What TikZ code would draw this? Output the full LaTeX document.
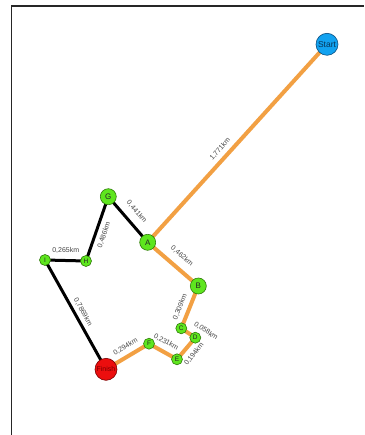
\documentclass[tikz,border=0pt]{standalone}
\usepackage{fontspec}
\setmainfont{Liberation Sans}
\usetikzlibrary{backgrounds}
\definecolor{ngreen}{HTML}{5EE61E}
\definecolor{ngreenb}{HTML}{2F7A0A}
\definecolor{nblue}{HTML}{12A2F0}
\definecolor{nblueb}{HTML}{0A4E80}
\definecolor{nred}{HTML}{EC0E0E}
\definecolor{nredb}{HTML}{7A0000}
\definecolor{route}{HTML}{F2A043}
\definecolor{lbltxt}{HTML}{444444}
\tikzset{
  wp/.style={circle, draw=ngreenb, line width=0.6pt, fill=ngreen, inner sep=0pt, minimum size=16pt, font=\fontsize{8}{9}\selectfont, text=black!85},
  wps/.style={wp, minimum size=11pt, font=\fontsize{6.5}{7}\selectfont},
  startn/.style={circle, draw=nblueb, line width=0.6pt, fill=nblue, inner sep=0pt, minimum size=22pt, font=\fontsize{8.5}{9}\selectfont, text=nblueb!70!black},
  finishn/.style={circle, draw=nredb, line width=0.6pt, fill=nred, inner sep=0pt, minimum size=22pt, font=\fontsize{7}{8}\selectfont, text=nredb},
  orange/.style={draw=route, line width=4pt},
  blackr/.style={draw=black, line width=3pt},
  lbl/.style={font=\fontsize{7}{8}\selectfont, text=lbltxt, inner sep=0pt},
  framel/.style={draw=black!85, line width=1.5pt}
}
\begin{document}
\begin{tikzpicture}[x=1pt,y=-1pt]
\useasboundingbox (0,0) rectangle (364,435);
% nodes
\node[startn] (S) at (327,44.3) {Start};
\node[wp] (G) at (108.3,196.7) {G};
\node[wp] (A) at (147.7,242.3) {A};
\node[wps] (H) at (86,261) {H};
\node[wps] (I) at (45,260) {I};
\node[wp] (B) at (198.3,286) {B};
\node[wps] (C) at (181.3,328.3) {C};
\node[wps] (D) at (195.3,337.7) {D};
\node[wps] (E) at (177,359.3) {E};
\node[wps] (F) at (149,343.7) {F};
\node[finishn] (Fin) at (106,369.3) {Finish};
% labels
\node[lbl, rotate=47.8] (l1) at (220,149) {1,771km};
\node[lbl, rotate=-49.2] (l2) at (136.7,211.7) {0,441km};
\node[lbl, rotate=70.9] (l3) at (104,235) {0,486km};
\node[lbl] (l4) at (65.7,250.7) {0,265km};
\node[lbl, rotate=-60.8] (l5) at (83,312) {0,7869km};
\node[lbl, rotate=-40.8] (l6) at (182,256) {0,462km};
\node[lbl, rotate=68.1] (l7) at (180,307) {0,309km};
\node[lbl, rotate=-33.9] (l8) at (206,331) {0,058km};
\node[lbl, rotate=52] (l9) at (194,354) {0,194km};
\node[lbl, rotate=-29] (l10) at (166,342) {0,231km};
\node[lbl, rotate=30.8] (l11) at (125.5,347) {0,294km};
\begin{scope}[on background layer]
  \fill[white] (0,0) rectangle (364,435);
  \draw[framel] (11.5,435) -- (11.5,6) -- (364,6);
  \draw[orange] (A.center) -- (S.center);
  \draw[orange] (A.center) -- (B.center);
  \draw[orange] (B.center) -- (C.center);
  \draw[orange] (C.center) -- (D.center);
  \draw[orange] (D.center) -- (E.center);
  \draw[orange] (E.center) -- (F.center);
  \draw[orange] (F.center) -- (Fin.center);
  \draw[blackr] (A.center) -- (G.center);
  \draw[blackr] (G.center) -- (H.center);
  \draw[blackr] (H.center) -- (I.center);
  \draw[blackr] (I.center) -- (Fin.center);
\end{scope}
\end{tikzpicture}
\end{document}
